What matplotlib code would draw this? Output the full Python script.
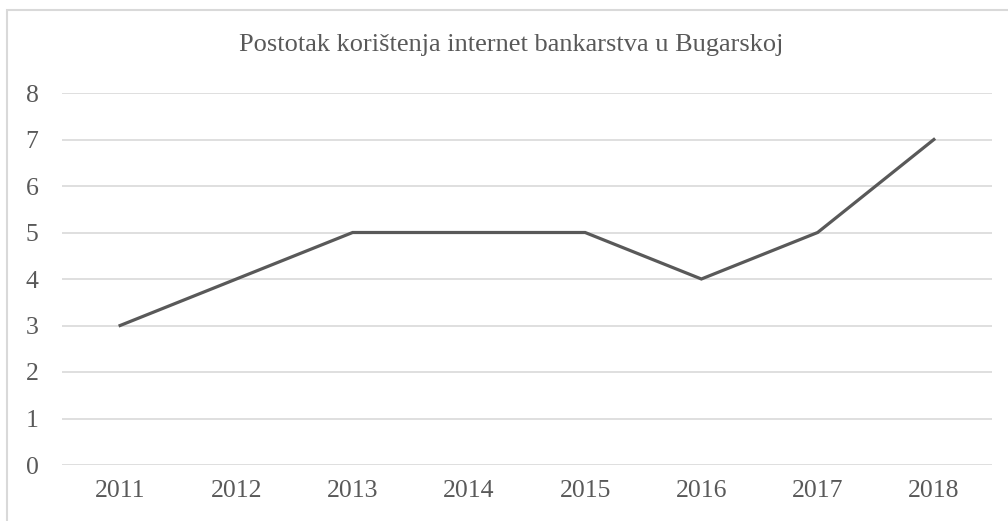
import matplotlib.pyplot as plt
from matplotlib.patches import Rectangle

years = ['2011', '2012', '2013', '2014', '2015', '2016', '2017', '2018']
values = [3, 4, 5, 5, 5, 4, 5, 7]
title = 'Postotak korištenja internet bankarstva u Bugarskoj'

plt.rcParams['font.family'] = ['Liberation Serif', 'DejaVu Serif']

fig = plt.figure(figsize=(10.08, 5.21), dpi=100)
ax = fig.add_axes([62/1008, 1-465/521, (992-62)/1008, (465-93)/521])

x = range(len(years))
ax.plot(x, values, color='#595959', lw=2.3, solid_joinstyle='miter', zorder=3)

ax.set_xlim(-0.5, len(years)-0.5)
ax.set_ylim(0, 8)
ax.set_yticks(range(0, 9))
ax.set_xticks(list(x))
ax.set_xticklabels(years)
ax.grid(axis='y', color='#d9d9d9', lw=1.2)
ax.set_axisbelow(True)
for s in ax.spines.values():
    s.set_visible(False)
ax.tick_params(length=0, labelsize=18.5, colors='#595959')
ax.tick_params(axis='x', pad=11)
for lab in ax.get_yticklabels():
    lab.set_horizontalalignment('center')
ax.tick_params(axis='y', pad=21.5)

fig.text(511/1008, 1-45/521, title, ha='center', va='center',
         fontsize=19, color='#595959')

fig.patches.append(Rectangle((7/1008, -0.1), 1.2, 1-10/521+0.1,
                             transform=fig.transFigure, fill=False,
                             edgecolor='#d9d9d9', lw=1.5))

fig.savefig('out.png', dpi=100)
